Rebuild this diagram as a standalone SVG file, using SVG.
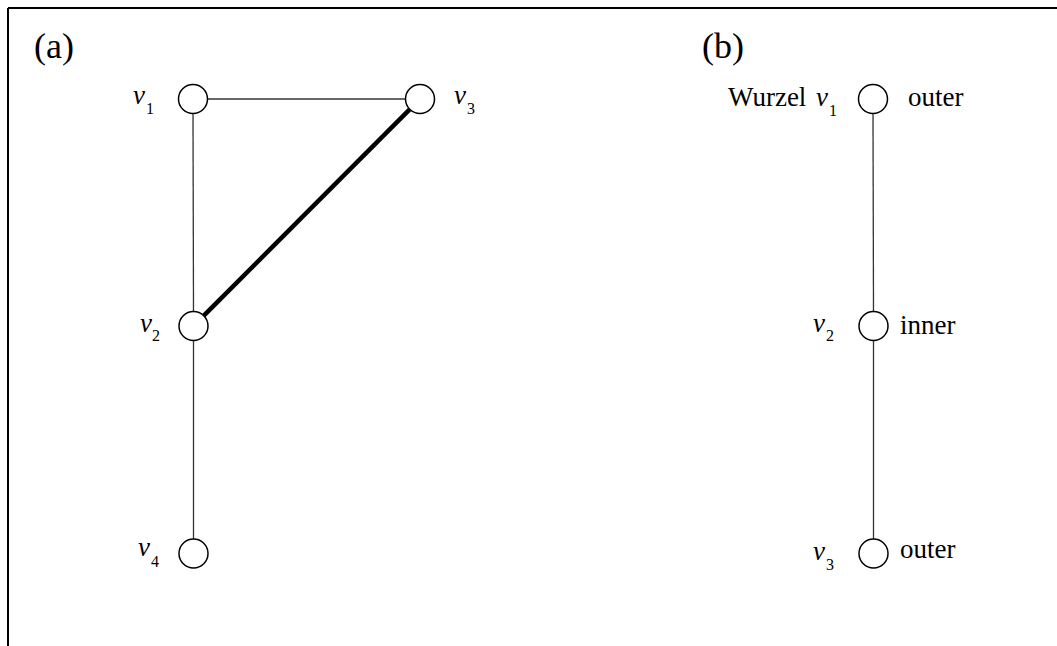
<svg xmlns="http://www.w3.org/2000/svg" width="1057" height="646" viewBox="0 0 1057 646">
<style>
.n{fill:#fff;stroke:#000;stroke-width:1.5}
.e{stroke:#333;stroke-width:1.3;fill:none}
.t{font-family:"Liberation Serif",serif;font-size:27px;fill:#000}
.v{font-family:"Liberation Serif",serif;font-style:italic;font-size:27px;fill:#000}
.s{font-family:"Liberation Serif",serif;font-size:16px;fill:#000}
.p{font-family:"Liberation Serif",serif;font-size:36px;fill:#000}
</style>
<rect width="1057" height="646" fill="#fff"/>
<g id="frame" stroke="#000" stroke-width="2">
<line x1="8" y1="8" x2="1057" y2="8"/>
<line x1="8" y1="8" x2="8" y2="646"/>
</g>
<text class="p" x="34" y="58">(a)</text>
<text class="p" x="702" y="58">(b)</text>
<g id="connectors">
<line class="e" x1="207.5" y1="99" x2="405.5" y2="99"/>
<line class="e" x1="193" y1="113.5" x2="193.5" y2="311.5"/>
<line x1="203.8" y1="315.7" x2="409.7" y2="109.3" stroke="#000" stroke-width="4.5"/>
<line class="e" x1="193.5" y1="340.5" x2="193.5" y2="539"/>
<line class="e" x1="873" y1="113.5" x2="873.5" y2="311.5"/>
<line class="e" x1="873.5" y1="340.5" x2="873.5" y2="539"/>
</g>
<g id="a_v1"><circle class="n" cx="193" cy="99" r="14.5"/><text class="v" x="133" y="104">v</text><text class="s" x="146" y="114">1</text></g>
<g id="a_v3"><circle class="n" cx="420" cy="99" r="14.5"/><text class="v" x="454" y="104">v</text><text class="s" x="467" y="114">3</text></g>
<g id="a_v2"><circle class="n" cx="193.5" cy="326" r="14.5"/><text class="v" x="140" y="332">v</text><text class="s" x="152" y="341">2</text></g>
<g id="a_v4"><circle class="n" cx="193.5" cy="553.5" r="14.5"/><text class="v" x="138" y="556">v</text><text class="s" x="151" y="567">4</text></g>
<g id="b_v1"><circle class="n" cx="873" cy="99" r="14.5"/><text class="t" x="728" y="106">Wurzel</text><text class="v" x="816" y="106">v</text><text class="s" x="829" y="116">1</text><text class="t" x="908" y="106">outer</text></g>
<g id="b_v2"><circle class="n" cx="873.5" cy="326" r="14.5"/><text class="v" x="813" y="332">v</text><text class="s" x="826" y="341">2</text><text class="t" x="900" y="334">inner</text></g>
<g id="b_v3"><circle class="n" cx="873.5" cy="553.5" r="14.5"/><text class="v" x="813" y="560">v</text><text class="s" x="826" y="570">3</text><text class="t" x="900" y="558">outer</text></g>
</svg>
